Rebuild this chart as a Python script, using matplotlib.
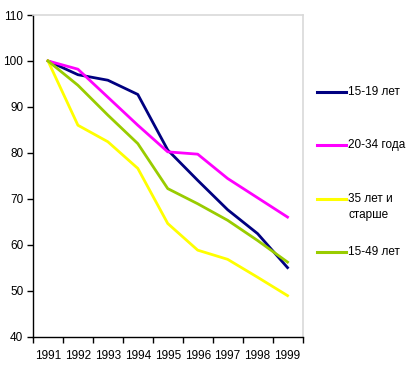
import matplotlib
matplotlib.use("Agg")
import matplotlib.pyplot as plt
import numpy as np
from matplotlib.lines import Line2D

plt.rcParams['font.family'] = ['Liberation Sans', 'DejaVu Sans']

years = ['1991', '1992', '1993', '1994', '1995', '1996', '1997', '1998', '1999']
labels = ['15-19 лет', '20-34 года', '35 лет и\nстарше', '15-49 лет']
colors = ['#000080', '#FF00FF', '#FFFF00', '#99CC00']

v_15_19 = [100, 97.0, 95.8, 92.7, 80.6, 74.0, 67.6, 62.4, 55.0]
v_20_34 = [100, 98.2, 92.1, 86.0, 80.2, 79.7, 74.4, 70.2, 66.0]
v_35_up = [100, 86.0, 82.4, 76.6, 64.6, 58.8, 56.8, 52.9, 48.9]
v_15_49 = [100, 94.7, 88.2, 82.0, 72.2, 68.9, 65.3, 60.9, 56.2]
series = [v_15_19, v_20_34, v_35_up, v_15_49]

fig = plt.figure(figsize=(4.11, 3.68), dpi=100)
W, H = 411, 368
ax = fig.add_axes([33 / W, (H - 336.5) / H, 269.5 / W, 321.5 / H])

x = np.arange(len(years))
for vals, c in zip(series, colors):
    ax.plot(x, vals, color=c, lw=2.0, solid_joinstyle='round')

ax.set_xlim(-0.5, len(years) - 0.5)
ax.set_ylim(40, 110)
ax.set_yticks(range(40, 111, 10))
ax.set_xticks(x)
ax.set_xticklabels(years)
ax.set_xticks(np.arange(-0.5, len(years)), minor=True)
ax.tick_params(axis='x', which='major', length=0, pad=10, labelsize=8.5)
ax.tick_params(axis='x', which='minor', length=4, direction='out', width=1)
ax.tick_params(axis='y', length=4, direction='out', width=1, labelsize=8.5, pad=3)

for s in ['top', 'right']:
    ax.spines[s].set_color('#d9d9d9')
    ax.spines[s].set_linewidth(1.2)
for s in ['left', 'bottom']:
    ax.spines[s].set_color('black')
    ax.spines[s].set_linewidth(1)

# legend drawn at right
leg_y = [92, 145, 199, 252]
for lab, c, yy in zip(labels, colors, leg_y):
    yf = 1 - yy / H
    fig.add_artist(Line2D([317 / W, 346 / W], [yf, yf], color=c, lw=2.2))
    if '\n' in lab:
        fig.text(348 / W, yf + 6.5 / H, lab, fontsize=8.5, va='top', ha='left',
                 linespacing=1.45)
    else:
        fig.text(348 / W, yf, lab, fontsize=8.5, va='center', ha='left')

fig.savefig('out.png', dpi=100)
